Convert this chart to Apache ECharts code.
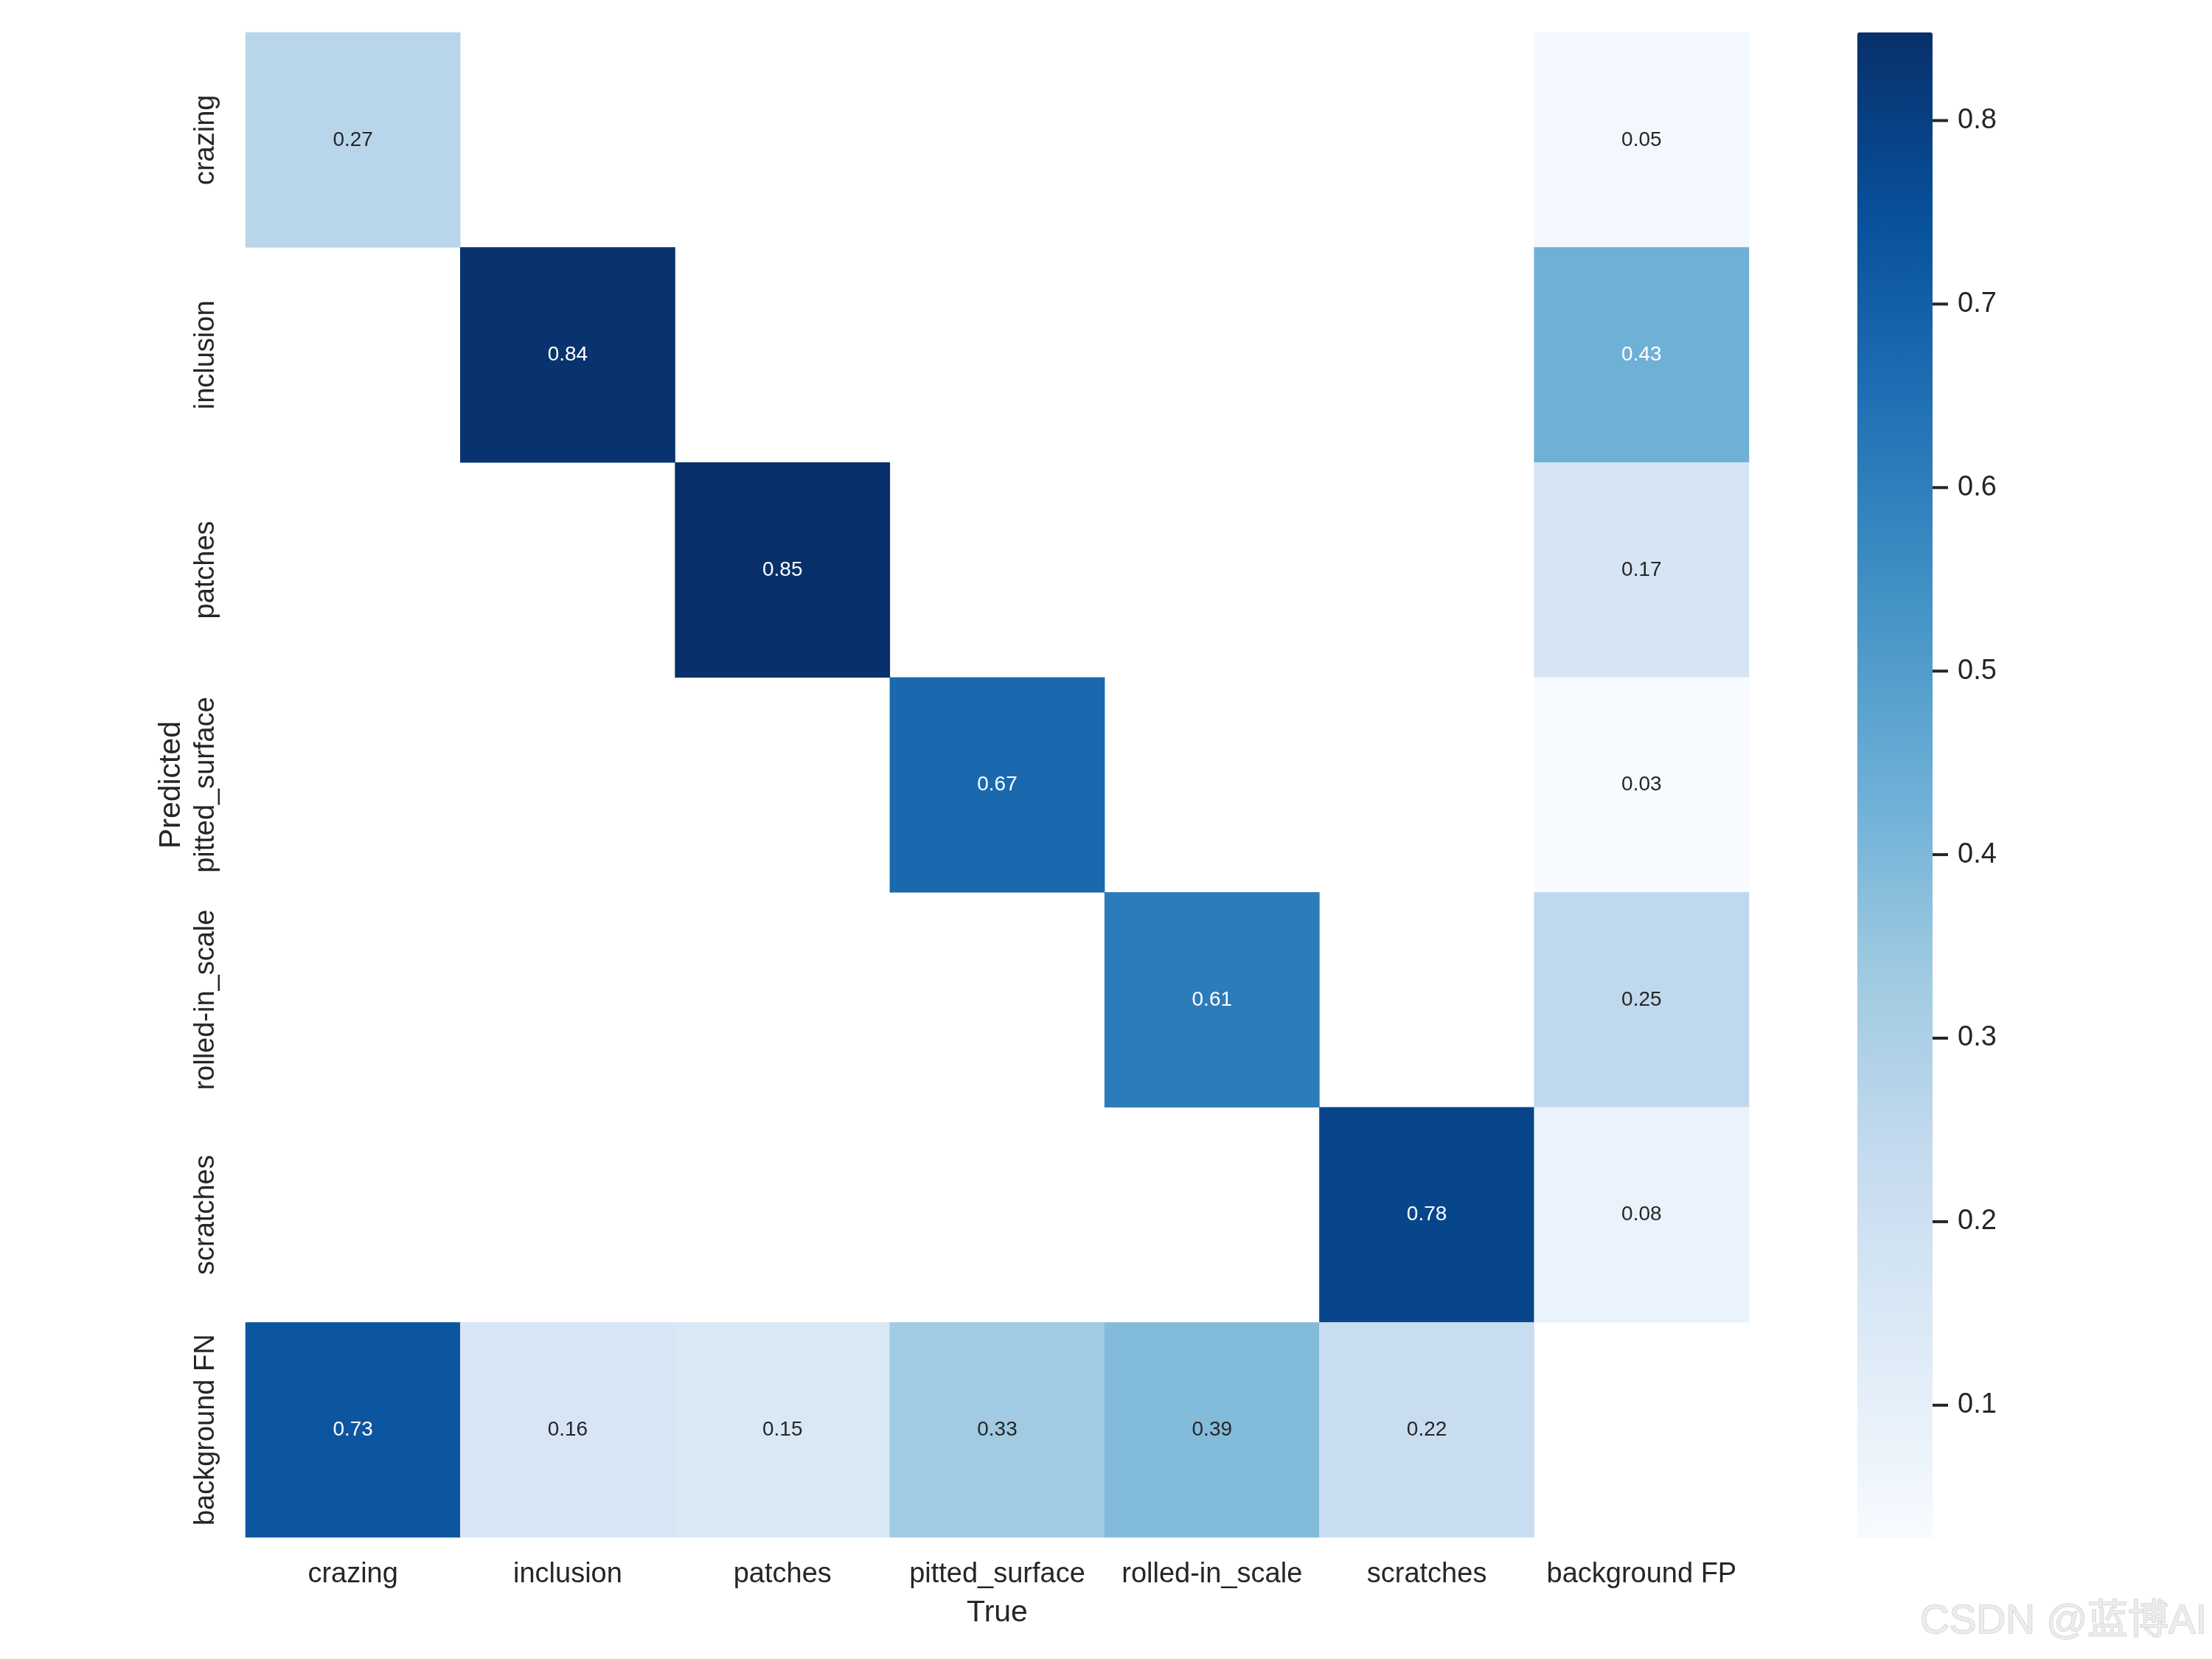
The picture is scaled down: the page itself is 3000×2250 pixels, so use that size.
<!DOCTYPE html>
<html>
<head>
<meta charset="utf-8">
<script src="https://cdn.jsdelivr.net/npm/echarts@6/dist/echarts.min.js"></script>
<style>
html,body{margin:0;padding:0;background:#fff;}
#chart{width:3000px;height:2250px;}
</style>
</head>
<body>
<div id="chart"></div>
<script>
// True classes (columns)
const trueLabels = ['crazing','inclusion','patches','pitted_surface','rolled-in_scale','scratches','background FP'];
// Predicted classes (rows)
const predLabels = ['crazing','inclusion','patches','pitted_surface','rolled-in_scale','scratches','background FN'];
// Matrix rows (predicted) x columns (true); null = empty cell
const rowCrazing    = [0.27, null, null, null, null, null, 0.05];
const rowInclusion  = [null, 0.84, null, null, null, null, 0.43];
const rowPatches    = [null, null, 0.85, null, null, null, 0.17];
const rowPitted     = [null, null, null, 0.67, null, null, 0.03];
const rowRolled     = [null, null, null, null, 0.61, null, 0.25];
const rowScratches  = [null, null, null, null, null, 0.78, 0.08];
const rowBgFN       = [0.73, 0.16, 0.15, 0.33, 0.39, 0.22, null];
const colorbarTicks = [0.1,0.2,0.3,0.4,0.5,0.6,0.7,0.8];

const rows = [rowCrazing,rowInclusion,rowPatches,rowPitted,rowRolled,rowScratches,rowBgFN];
const data = [];
rows.forEach((r, yi) => r.forEach((v, xi) => {
  if (v !== null) {
    data.push({value:[xi, yi, v], label:{color: v > 0.4 ? '#ffffff' : '#262626'}});
  }
}));

const vmin = 0.028, vmax = 0.848;
const blues = ['#f7fbff','#deebf7','#c6dbef','#9ecae1','#6baed6','#4292c6','#2171b5','#08519c','#08306b'];
const FONT = 'Liberation Sans, Arial, sans-serif';
const TXT = '#262626';

const chart = echarts.init(document.getElementById('chart'), null, {renderer:'canvas', devicePixelRatio:1});
chart.setOption({
  backgroundColor:'#ffffff',
  animation:false,
  textStyle:{fontFamily:FONT},
  grid:[
    {left:333, top:44, width:2039, height:2041},
    {left:2519, top:44, width:102, height:2041}
  ],
  xAxis:[
    {type:'category', data:trueLabels, gridIndex:0, position:'bottom',
     axisLine:{show:false}, axisTick:{show:false}, splitLine:{show:false},
     axisLabel:{fontSize:38, color:TXT, margin:32, interval:0, fontFamily:FONT},
     name:'True', nameLocation:'middle', nameGap:82,
     nameTextStyle:{fontSize:41, color:TXT, fontFamily:FONT}},
    {type:'value', gridIndex:1, show:false, min:0, max:1}
  ],
  yAxis:[
    {type:'category', data:predLabels, gridIndex:0, inverse:true,
     axisLine:{show:false}, axisTick:{show:false}, splitLine:{show:false},
     axisLabel:{fontSize:38, color:TXT, rotate:90, margin:34, interval:0, fontFamily:FONT},
     name:'Predicted', nameLocation:'middle', nameGap:80, nameRotate:90,
     nameTextStyle:{fontSize:41, color:TXT, fontFamily:FONT}},
    {type:'value', gridIndex:1, position:'right', min:vmin, max:vmax,
     axisLine:{show:false}, splitLine:{show:false},
     axisTick:{show:false},
     axisLabel:{color:TXT, margin:0, fontFamily:FONT, customValues:colorbarTicks, align:'left',
       formatter:(v)=>'{t|}{v|' + v.toFixed(1) + '}',
       rich:{
         t:{width:21, height:4, backgroundColor:TXT, verticalAlign:'middle'},
         v:{fontSize:38, color:TXT, fontFamily:FONT, padding:[0,0,0,13], verticalAlign:'middle'}
       }}}
  ],
  visualMap:{
    type:'continuous', min:vmin, max:vmax, seriesIndex:0, calculable:false,
    orient:'vertical', left:2519, top:44, itemWidth:102, itemHeight:2041,
    padding:0, text:null, showLabel:false,
    inRange:{color:blues}
  },
  series:[{
    type:'heatmap', xAxisIndex:0, yAxisIndex:0, data:data,
    label:{show:true, fontSize:28, fontFamily:FONT, formatter:(p)=>p.value[2].toFixed(2)},
    itemStyle:{borderWidth:0},
    emphasis:{disabled:true}
  }],
  graphic:[{
    type:'text', x:2993, y:2200,
    style:{text:'CSDN @蓝博AI', fontSize:55, fontFamily:'Liberation Sans, Noto Sans CJK SC, sans-serif',
      align:'right', verticalAlign:'middle',
      fill:'#ececec', stroke:'#d2d2d2', lineWidth:1.5}
  }]
});
</script>
</body>
</html>
